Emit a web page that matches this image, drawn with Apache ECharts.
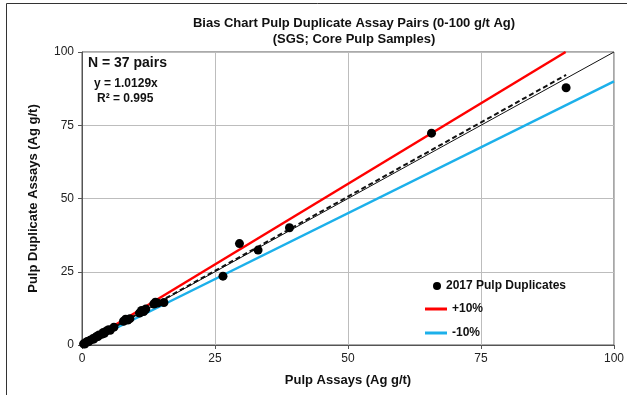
<!DOCTYPE html>
<html>
<head>
<meta charset="utf-8">
<script src="https://cdn.jsdelivr.net/npm/echarts@6/dist/echarts.min.js"></script>
<style>
html, body { margin: 0; padding: 0; background: #fff; }
#main { width: 627px; height: 395px; }
</style>
</head>
<body>
<div id="main"></div>
<script>
// pulp assays vs duplicate assays (Ag g/t)
var pulpX = [0.3, 0.5, 0.8, 1.0, 1.2, 1.5, 2.0, 2.2, 2.5, 2.8, 3.0, 3.2, 3.8, 4.0, 4.2, 4.6, 5.0, 5.3, 6.0, 7.8,
    8.2, 8.6, 9.0, 10.8, 11.2, 11.6, 12.0, 13.5, 13.8, 14.2, 15.4, 26.5, 29.6, 33.1, 39.0, 65.7, 91.0];
var dupY = [0.4, 0.3, 0.9, 1.2, 1.1, 1.6, 2.1, 2.0, 2.6, 3.0, 2.9, 3.4, 3.7, 4.3, 4.0, 4.8, 5.2, 5.0, 6.1, 8.1,
    8.8, 8.5, 9.0, 10.9, 11.8, 11.4, 12.3, 14.0, 14.6, 14.3, 14.5, 23.5, 34.6, 32.4, 40.0, 72.3, 87.8];
var axisTicks = [0, 25, 50, 75, 100];
var slope = 1.0129;
var plusSlope = 1.1;
var minusSlope = 0.9;
var maxX = 91;

var chartDom = document.getElementById('main');
var myChart = echarts.init(chartDom);
var option;

var fnt = 'Liberation Sans, Arial, sans-serif';

option = {
    animation: false,
    textStyle: { fontFamily: fnt },
    title: {
        text: 'Bias Chart Pulp Duplicate Assay Pairs (0-100 g/t Ag)\n(SGS; Core Pulp Samples)',
        left: 349,
        top: 10,
        textAlign: 'center',
        textStyle: {
            fontSize: 13,
            fontWeight: 'bold',
            color: '#111',
            lineHeight: 16,
            fontFamily: fnt
        }
    },
    grid: {
        left: 82,
        right: 11,
        top: 52,
        bottom: 50,
        show: true,
        borderColor: '#555',
        borderWidth: 1
    },
    legend: [
        {
            data: [{ name: '2017 Pulp Duplicates', icon: 'circle' }],
            left: 433,
            top: 280,
            padding: 0,
            itemWidth: 8,
            itemHeight: 8,
            textStyle: { fontSize: 12, fontWeight: 'bold', color: '#111', fontFamily: fnt }
        },
        {
            data: [
                { name: '+10%', icon: 'rect', itemStyle: { color: '#ff0000' } },
                { name: '-10%', icon: 'rect', itemStyle: { color: '#1cb0ea' } }
            ],
            orient: 'vertical',
            left: 425,
            top: 303,
            padding: 0,
            itemWidth: 22,
            itemHeight: 3,
            itemGap: 12,
            textStyle: { fontSize: 12, fontWeight: 'bold', color: '#111', fontFamily: fnt }
        }
    ],
    graphic: [
        {
            type: 'rect',
            shape: { x: 6.5, y: 3.5, width: 700, height: 500 },
            style: { fill: 'none', stroke: '#333', lineWidth: 1 },
            silent: true
        },
        {
            type: 'text',
            left: 88,
            top: 56,
            style: { text: 'N = 37 pairs', font: 'bold 14px ' + fnt, fill: '#111' }
        },
        {
            type: 'text',
            left: 94,
            top: 78,
            style: { text: 'y = 1.0129x', font: 'bold 12px ' + fnt, fill: '#111' }
        },
        {
            type: 'text',
            left: 97,
            top: 93,
            style: { text: 'R² = 0.995', font: 'bold 12px ' + fnt, fill: '#111' }
        }
    ],
    xAxis: {
        type: 'value',
        min: axisTicks[0],
        max: axisTicks[axisTicks.length - 1],
        interval: 25,
        name: 'Pulp Assays (Ag g/t)',
        nameLocation: 'middle',
        nameGap: 29,
        nameTextStyle: { fontSize: 13, fontWeight: 'bold', color: '#111', fontFamily: fnt },
        axisLine: { show: true, lineStyle: { color: '#555', width: 1 } },
        axisTick: { show: true, length: 4, lineStyle: { color: '#555' } },
        axisLabel: { fontSize: 12, color: '#222', margin: 8 },
        splitLine: { show: true, lineStyle: { color: '#bdbdbd', width: 1 } }
    },
    yAxis: {
        type: 'value',
        min: axisTicks[0],
        max: axisTicks[axisTicks.length - 1],
        interval: 25,
        name: 'Pulp Duplicate Assays (Ag g/t)',
        nameLocation: 'middle',
        nameGap: 42,
        nameTextStyle: { fontSize: 13, fontWeight: 'bold', color: '#111', fontFamily: fnt },
        axisLine: { show: true, lineStyle: { color: '#555', width: 1 } },
        axisTick: { show: true, length: 4, lineStyle: { color: '#555' } },
        axisLabel: { fontSize: 12, color: '#222', margin: 8 },
        splitLine: { show: true, lineStyle: { color: '#bdbdbd', width: 1 } }
    },
    series: [
        {
            name: '1:1',
            type: 'line',
            data: [[0, 0], [100, 100]],
            symbol: 'none',
            lineStyle: { color: '#111', width: 1 },
            z: 3
        },
        {
            name: '+10%',
            type: 'line',
            data: [[0, 0], [100 / plusSlope, 100]],
            symbol: 'none',
            itemStyle: { color: '#ff0000' },
            lineStyle: { color: '#ff0000', width: 2.5 },
            z: 2
        },
        {
            name: '-10%',
            type: 'line',
            data: [[0, 0], [100, 100 * minusSlope]],
            symbol: 'none',
            itemStyle: { color: '#1cb0ea' },
            lineStyle: { color: '#1cb0ea', width: 2.5 },
            z: 2
        },
        {
            name: 'trend',
            type: 'line',
            data: [[0, 0], [maxX, maxX * slope]],
            symbol: 'none',
            lineStyle: { color: '#111', width: 2, type: [5, 3] },
            z: 4
        },
        {
            name: '2017 Pulp Duplicates',
            type: 'scatter',
            data: pulpX.map(function (x, i) { return [x, dupY[i]]; }),
            symbol: 'circle',
            symbolSize: 9,
            itemStyle: { color: '#000', opacity: 1 },
            z: 5
        }
    ]
};

option && myChart.setOption(option);

window.addEventListener('resize', myChart.resize);
</script>
</body>
</html>
